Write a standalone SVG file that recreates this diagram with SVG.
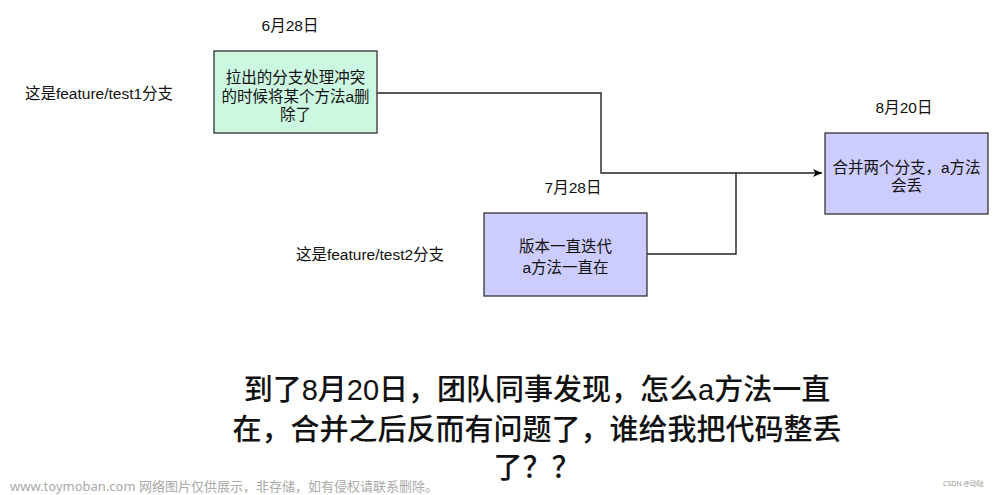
<svg xmlns="http://www.w3.org/2000/svg" width="1000" height="495" viewBox="0 0 1000 495">
<defs>
<marker id="arr" markerWidth="10" markerHeight="10" refX="9" refY="5" orient="auto" markerUnits="userSpaceOnUse">
<path d="M0,1 L9,5 L0,9 L2.5,5 Z" fill="#000"/>
</marker>
<style>
.t{font-family:"Liberation Sans","Noto Sans CJK SC",sans-serif;fill:#111;}
.s{font-size:15.5px;}
.b{font-size:15.5px;}
.box{stroke:#333;stroke-width:1.3;}
.c{fill:none;stroke:#222;stroke-width:1.4;}
.cap{font-size:29px;font-weight:500;}
</style>
</defs>
<rect width="1000" height="495" fill="#fff"/>
<g id="connectors">
<path class="c" d="M377,93 H601 V173 H822" marker-end="url(#arr)"/>
<path class="c" d="M647,254 H736 V173"/>
</g>
<g id="n1">
<rect class="box" x="214" y="51" width="163" height="82" fill="#ccf7e0"/>
<text class="t b" text-anchor="middle" x="295.5" y="83">拉出的分支处理冲突</text>
<text class="t b" text-anchor="middle" x="295.5" y="102">的时候将某个方法a删</text>
<text class="t b" text-anchor="middle" x="295.5" y="120">除了</text>
</g>
<g id="n2">
<rect class="box" x="484" y="213" width="163" height="83" fill="#ccccff"/>
<text class="t b" text-anchor="middle" x="565.5" y="252">版本一直迭代</text>
<text class="t b" text-anchor="middle" x="565.5" y="273">a方法一直在</text>
</g>
<g id="n3">
<rect class="box" x="825" y="133" width="163" height="81" fill="#ccccff"/>
<text class="t b" text-anchor="middle" x="906.5" y="173">合并两个分支，a方法</text>
<text class="t b" text-anchor="middle" x="906.5" y="191">会丢</text>
</g>
<g id="labels">
<text class="t s" text-anchor="middle" x="290" y="31">6月28日</text>
<text class="t s" text-anchor="middle" x="573" y="193">7月28日</text>
<text class="t s" text-anchor="middle" x="904" y="113">8月20日</text>
<text class="t s" text-anchor="middle" x="99" y="99">这是feature/test1分支</text>
<text class="t s" text-anchor="middle" x="370" y="260">这是feature/test2分支</text>
</g>
<g id="caption">
<text class="t cap" text-anchor="middle" x="537" y="400">到了8月20日，团队同事发现，怎么a方法一直</text>
<text class="t cap" text-anchor="middle" x="537" y="440">在，合并之后反而有问题了，谁给我把代码整丢</text>
<text class="t cap" text-anchor="middle" x="537" y="478">了？？</text>
</g>
<text font-family="'Noto Sans','Noto Sans CJK SC',sans-serif" font-size="13" fill="#aaa" x="10" y="491">www.toymoban.com 网络图片仅供展示，非存储，如有侵权请联系删除。</text>
<text font-family="'Noto Sans','Noto Sans CJK SC',sans-serif" font-size="7" fill="#999" x="943" y="486">CSDN @动哒</text>
</svg>
